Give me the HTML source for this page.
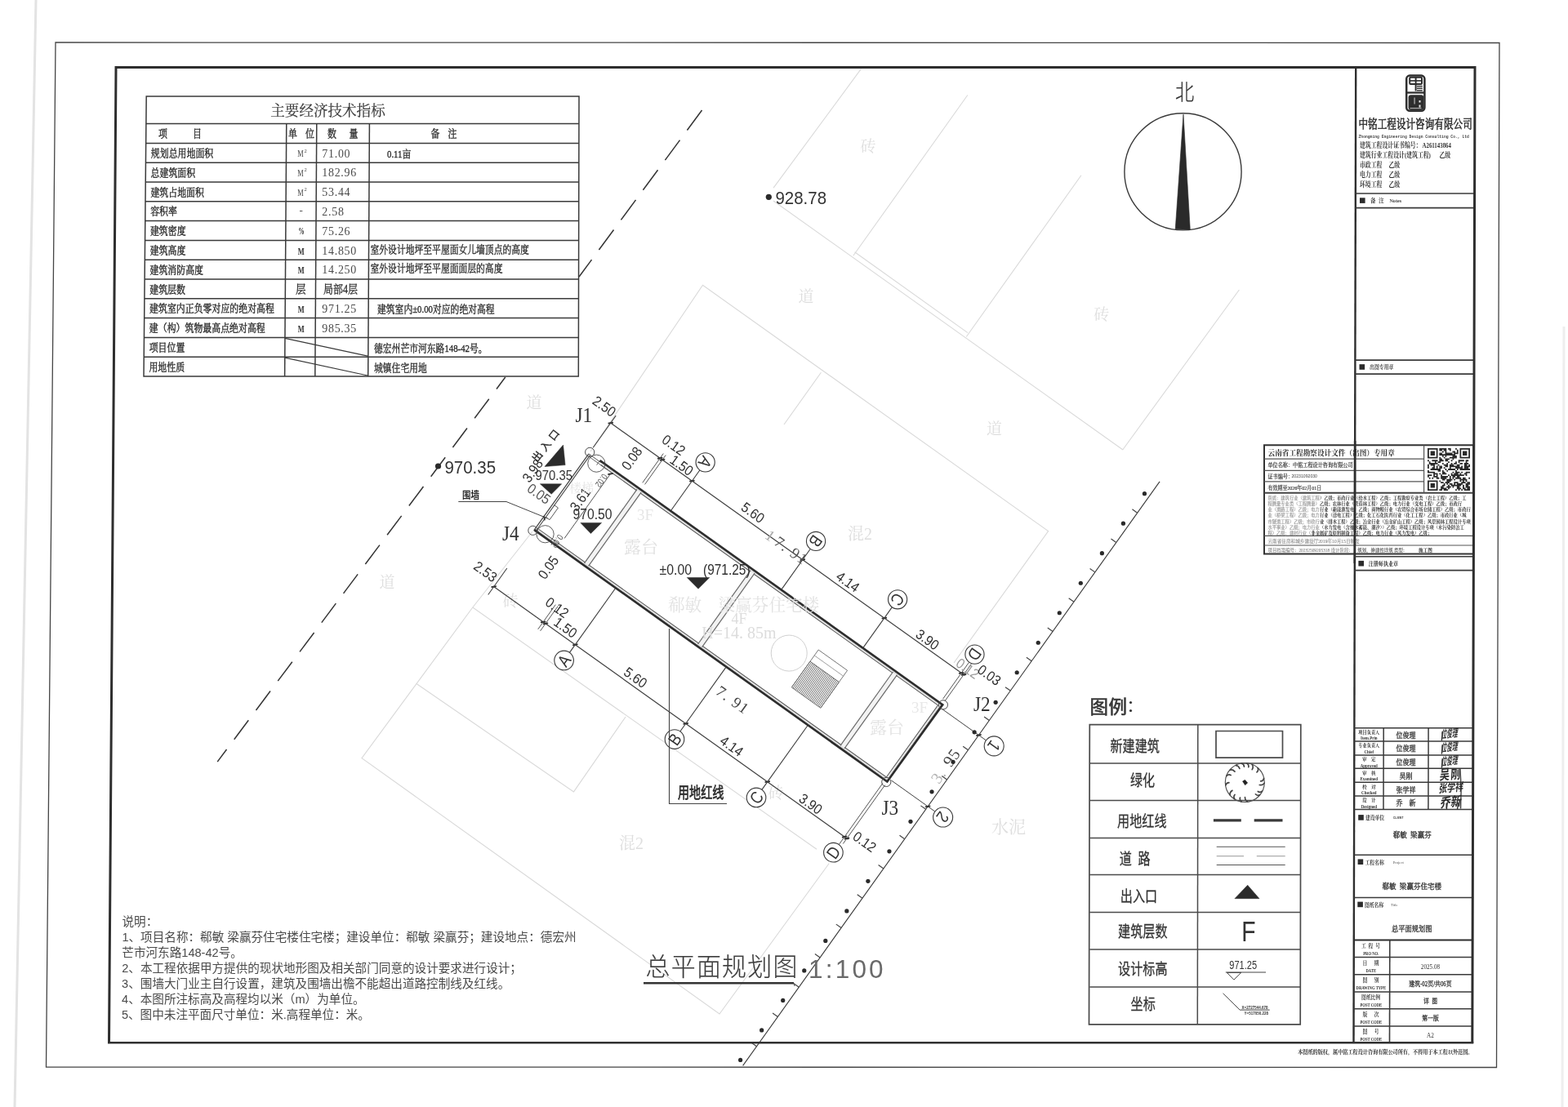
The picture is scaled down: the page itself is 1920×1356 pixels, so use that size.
<!DOCTYPE html><html lang="zh"><head><meta charset="utf-8"><title>总平面规划图 1:100</title><style>html,body{margin:0;padding:0;background:#fff}body{width:1920px;height:1356px;overflow:hidden;font-family:"Liberation Sans",sans-serif}svg{position:absolute;left:0;top:0;display:block;will-change:transform}.fr{font-family:"Liberation Serif","Noto Serif CJK SC",serif}.fs{font-family:"Liberation Sans","Noto Sans CJK SC",sans-serif}</style></head><body><svg font-family="Liberation Sans, sans-serif" width="1920" height="1356" viewBox="0 0 1920 1356"><path d="M44 0L18 1356" stroke="#dcdcdc" stroke-width="3" opacity=".8"/><path d="M1915 400L1913 1356" stroke="#eee" stroke-width="3"/><path d="M1054.4 84.4L947.1 230.2" stroke="#d9d9d9" stroke-width="1.1" fill="none"/><path d="M947 246L1375 551" stroke="#d9d9d9" stroke-width="1.1" fill="none"/><path d="M1046.6 308.8L1185 407.6" stroke="#d9d9d9" stroke-width="1.1" fill="none"/><path d="M1184.8 116.5L1044.8 313.3" stroke="#d9d9d9" stroke-width="1.1" fill="none"/><path d="M1323.9 214.8L1183.3 412.5" stroke="#d9d9d9" stroke-width="1.1" fill="none"/><path d="M1517.4 355L1374.7 551" stroke="#d9d9d9" stroke-width="1.1" fill="none"/><path d="M723 553L860.5 349.3L1283.6 650.6L1168 812" stroke="#d9d9d9" stroke-width="1.1" fill="none"/><path d="M1005.4 456.2L960 520" stroke="#d9d9d9" stroke-width="1.1" fill="none"/><path d="M652 651L578.8 744" stroke="#d9d9d9" stroke-width="1.1" fill="none"/><path d="M578.8 744L1000 1040.3" stroke="#d9d9d9" stroke-width="1.1" fill="none"/><path d="M578.8 744L443 928.6L881 1242L1015.3 1057.5" stroke="#d9d9d9" stroke-width="1.1" fill="none"/><path d="M510 837.5L702.5 969.9L766.1 878" stroke="#d9d9d9" stroke-width="1.1" fill="none"/><text class="fr" x="1062.9" y="186" font-size="19" fill="#dedede" text-anchor="middle">砖</text><text class="fr" x="987" y="370" font-size="19" fill="#dedede" text-anchor="middle">道</text><text class="fr" x="1348.7" y="392" font-size="19" fill="#dedede" text-anchor="middle">砖</text><text class="fr" x="654" y="500" font-size="19" fill="#dedede" text-anchor="middle">道</text><text class="fr" x="474" y="720" font-size="19" fill="#dedede" text-anchor="middle">道</text><text class="fr" x="625" y="743" font-size="19" fill="#dedede" text-anchor="middle">砖</text><text class="fr" x="950" y="978" font-size="19" fill="#dedede" text-anchor="middle">砖</text><text class="fr" x="1217.5" y="532" font-size="19" fill="#dedede" text-anchor="middle">道</text><text class="fr" x="1053" y="660.5" font-size="20" fill="#dedede" text-anchor="middle">混2</text><text class="fr" x="773" y="1040" font-size="20" fill="#dedede" text-anchor="middle">混2</text><text class="fr" x="1235" y="1020" font-size="21" fill="#dedede" text-anchor="middle">水泥</text><path d="M859.5 135L841.4 159.55" stroke="#333" stroke-width="1.5"/><path d="M832.5 171.62L814.4 196.17" stroke="#333" stroke-width="1.5"/><path d="M805.5 208.25L787.4 232.79" stroke="#333" stroke-width="1.5"/><path d="M778.5 244.87L760.4 269.42" stroke="#333" stroke-width="1.5"/><path d="M751.5 281.49L733.4 306.04" stroke="#333" stroke-width="1.5"/><path d="M724.5 318.11L709.07 339.04" stroke="#333" stroke-width="1.5"/><path d="M618.76 462.01L607.97 476.44" stroke="#333" stroke-width="1.5"/><path d="M598.75 488.75L581.19 512.21" stroke="#333" stroke-width="1.5"/><path d="M571.98 524.52L554.42 547.98" stroke="#333" stroke-width="1.5"/><path d="M545.21 560.29L527.65 583.75" stroke="#333" stroke-width="1.5"/><path d="M518.44 596.07L500.88 619.52" stroke="#333" stroke-width="1.5"/><path d="M491.67 631.84L474.11 655.3" stroke="#333" stroke-width="1.5"/><path d="M464.9 667.61L447.34 691.07" stroke="#333" stroke-width="1.5"/><path d="M438.13 703.38L420.57 726.84" stroke="#333" stroke-width="1.5"/><path d="M411.36 739.15L393.8 762.61" stroke="#333" stroke-width="1.5"/><path d="M384.59 774.93L367.03 798.38" stroke="#333" stroke-width="1.5"/><path d="M357.81 810.7L340.26 834.16" stroke="#333" stroke-width="1.5"/><path d="M331.04 846.47L313.49 869.93" stroke="#333" stroke-width="1.5"/><path d="M304.27 882.24L286.72 905.7" stroke="#333" stroke-width="1.5"/><path d="M277.5 918.01L266.21 933.1" stroke="#333" stroke-width="1.5"/><path d="M179.2 118L709 118L708.3 461L176.01 461Z" stroke="none" stroke-width="0" fill="#fff"/><path d="M179.2 118L709 118L708.3 461L176.01 461Z" stroke="#3a3a3a" stroke-width="1.5" fill="none"/><path d="M178.89 151.6L708.83 151.6" stroke="#3a3a3a" stroke-width="1.5"/><path d="M178.67 175.4L708.79 175.4" stroke="#3a3a3a" stroke-width="1.5"/><path d="M178.44 199.2L708.74 199.2" stroke="#3a3a3a" stroke-width="1.5"/><path d="M178.22 223L708.69 223" stroke="#3a3a3a" stroke-width="1.5"/><path d="M178 246.8L708.64 246.8" stroke="#3a3a3a" stroke-width="1.5"/><path d="M177.78 270.6L708.6 270.6" stroke="#3a3a3a" stroke-width="1.5"/><path d="M177.56 294.4L708.55 294.4" stroke="#3a3a3a" stroke-width="1.5"/><path d="M177.34 318.2L708.5 318.2" stroke="#3a3a3a" stroke-width="1.5"/><path d="M177.12 342L708.45 342" stroke="#3a3a3a" stroke-width="1.5"/><path d="M176.9 365.8L708.41 365.8" stroke="#3a3a3a" stroke-width="1.5"/><path d="M176.67 389.6L708.36 389.6" stroke="#3a3a3a" stroke-width="1.5"/><path d="M176.45 413.4L708.31 413.4" stroke="#3a3a3a" stroke-width="1.5"/><path d="M176.23 437.2L708.26 437.2" stroke="#3a3a3a" stroke-width="1.5"/><path d="M350.77 151.6L348.62 461" stroke="#3a3a3a" stroke-width="1.5"/><path d="M387.78 151.6L385.8 461" stroke="#3a3a3a" stroke-width="1.5"/><path d="M452.41 151.6L450.7 461" stroke="#3a3a3a" stroke-width="1.5"/><path d="M348.95 414.4L450.23 436.2" stroke="#3a3a3a" stroke-width="1.2"/><path d="M348.79 438.2L450.1 460" stroke="#3a3a3a" stroke-width="1.2"/><text class="fr" transform="translate(401.5 141.5) scale(0.96 1)" font-size="18.3" fill="#3c3c3c" stroke="#3c3c3c" stroke-width="0.22" text-anchor="middle">主要经济技术指标</text><text class="fr" transform="translate(194 168.3) scale(0.84 1)" font-size="13" fill="#2b2b2b" stroke="#2b2b2b" stroke-width="0.39">项</text><text class="fr" transform="translate(236 168.3) scale(0.84 1)" font-size="13" fill="#2b2b2b" stroke="#2b2b2b" stroke-width="0.39">目</text><text class="fr" transform="translate(353 168.3) scale(0.84 1)" font-size="13" fill="#2b2b2b" stroke="#2b2b2b" stroke-width="0.39">单</text><text class="fr" transform="translate(374 168.3) scale(0.84 1)" font-size="13" fill="#2b2b2b" stroke="#2b2b2b" stroke-width="0.39">位</text><text class="fr" transform="translate(401 168.3) scale(0.84 1)" font-size="13" fill="#2b2b2b" stroke="#2b2b2b" stroke-width="0.39">数</text><text class="fr" transform="translate(427.5 168.3) scale(0.84 1)" font-size="13" fill="#2b2b2b" stroke="#2b2b2b" stroke-width="0.39">量</text><text class="fr" transform="translate(527.5 168.3) scale(0.84 1)" font-size="13" fill="#2b2b2b" stroke="#2b2b2b" stroke-width="0.39">备</text><text class="fr" transform="translate(548.5 168.3) scale(0.84 1)" font-size="13" fill="#2b2b2b" stroke="#2b2b2b" stroke-width="0.39">注</text><text class="fr" transform="translate(184.82 192) scale(0.84 1)" font-size="13" fill="#2b2b2b" stroke="#2b2b2b" stroke-width="0.39">规划总用地面积</text><text transform="translate(364.3 192) scale(0.62 1)" font-size="13.5" fill="#4a4a4a" font-family="Liberation Serif">M</text><text transform="translate(372.6 186.5)" font-size="6.5" fill="#4a4a4a" font-family="Liberation Serif">2</text><text transform="translate(394.3 192.5) scale(0.9 1)" font-size="15.5" fill="#4a4a4a" font-family="Liberation Serif" letter-spacing="0.8">71.00</text><text class="fr" transform="translate(474 193) scale(0.832 1)" font-size="13" fill="#2b2b2b" stroke="#2b2b2b" stroke-width="0.36">0.11亩</text><text class="fr" transform="translate(184.6 215.8) scale(0.84 1)" font-size="13" fill="#2b2b2b" stroke="#2b2b2b" stroke-width="0.39">总建筑面积</text><text transform="translate(364.3 215.8) scale(0.62 1)" font-size="13.5" fill="#4a4a4a" font-family="Liberation Serif">M</text><text transform="translate(372.6 210.3)" font-size="6.5" fill="#4a4a4a" font-family="Liberation Serif">2</text><text transform="translate(394.3 216.3) scale(0.9 1)" font-size="15.5" fill="#4a4a4a" font-family="Liberation Serif" letter-spacing="0.8">182.96</text><text class="fr" transform="translate(184.38 239.6) scale(0.84 1)" font-size="13" fill="#2b2b2b" stroke="#2b2b2b" stroke-width="0.39">建筑占地面积</text><text transform="translate(364.3 239.6) scale(0.62 1)" font-size="13.5" fill="#4a4a4a" font-family="Liberation Serif">M</text><text transform="translate(372.6 234.1)" font-size="6.5" fill="#4a4a4a" font-family="Liberation Serif">2</text><text transform="translate(394.3 240.1) scale(0.9 1)" font-size="15.5" fill="#4a4a4a" font-family="Liberation Serif" letter-spacing="0.8">53.44</text><text class="fr" transform="translate(184.16 263.4) scale(0.84 1)" font-size="13" fill="#2b2b2b" stroke="#2b2b2b" stroke-width="0.39">容积率</text><text transform="translate(366.5 262.4)" font-size="13" fill="#4a4a4a" font-family="Liberation Serif">-</text><text transform="translate(394.3 263.9) scale(0.9 1)" font-size="15.5" fill="#4a4a4a" font-family="Liberation Serif" letter-spacing="0.8">2.58</text><text class="fr" transform="translate(183.94 287.2) scale(0.84 1)" font-size="13" fill="#2b2b2b" stroke="#2b2b2b" stroke-width="0.39">建筑密度</text><text transform="translate(365.5 287.2) scale(0.6 1)" font-size="12" fill="#2b2b2b" font-family="Liberation Serif" font-weight="bold">%</text><text transform="translate(394.3 287.7) scale(0.9 1)" font-size="15.5" fill="#4a4a4a" font-family="Liberation Serif" letter-spacing="0.8">75.26</text><text class="fr" transform="translate(183.72 311) scale(0.84 1)" font-size="13" fill="#2b2b2b" stroke="#2b2b2b" stroke-width="0.39">建筑高度</text><text transform="translate(364.8 311.5) scale(0.62 1)" font-size="13.5" fill="#2b2b2b" font-family="Liberation Serif" font-weight="bold">M</text><text transform="translate(394.3 311.5) scale(0.9 1)" font-size="15.5" fill="#4a4a4a" font-family="Liberation Serif" letter-spacing="0.8">14.850</text><text class="fr" transform="translate(453.5 309.5) scale(0.832 1)" font-size="13" fill="#2b2b2b" stroke="#2b2b2b" stroke-width="0.36">室外设计地坪至平屋面女儿墙顶点的高度</text><text class="fr" transform="translate(183.5 334.8) scale(0.84 1)" font-size="13" fill="#2b2b2b" stroke="#2b2b2b" stroke-width="0.39">建筑消防高度</text><text transform="translate(364.8 335.3) scale(0.62 1)" font-size="13.5" fill="#2b2b2b" font-family="Liberation Serif" font-weight="bold">M</text><text transform="translate(394.3 335.3) scale(0.9 1)" font-size="15.5" fill="#4a4a4a" font-family="Liberation Serif" letter-spacing="0.8">14.250</text><text class="fr" transform="translate(453.5 333.3) scale(0.832 1)" font-size="13" fill="#2b2b2b" stroke="#2b2b2b" stroke-width="0.36">室外设计地坪至平屋面面层的高度</text><text class="fr" transform="translate(183.28 358.6) scale(0.84 1)" font-size="13" fill="#2b2b2b" stroke="#2b2b2b" stroke-width="0.39">建筑层数</text><text class="fr" transform="translate(362 359.1) scale(0.9 1)" font-size="14" fill="#2b2b2b" stroke="#2b2b2b" stroke-width="0.28">层</text><text class="fr" transform="translate(396 359.1) scale(0.86 1)" font-size="14" fill="#2b2b2b" stroke="#2b2b2b" stroke-width="0.28">局部4层</text><text class="fr" transform="translate(183.06 382.4) scale(0.84 1)" font-size="13" fill="#2b2b2b" stroke="#2b2b2b" stroke-width="0.39">建筑室内正负零对应的绝对高程</text><text transform="translate(364.8 382.9) scale(0.62 1)" font-size="13.5" fill="#2b2b2b" font-family="Liberation Serif" font-weight="bold">M</text><text transform="translate(394.3 382.9) scale(0.9 1)" font-size="15.5" fill="#4a4a4a" font-family="Liberation Serif" letter-spacing="0.8">971.25</text><text class="fr" transform="translate(462 383.4) scale(0.832 1)" font-size="13" fill="#2b2b2b" stroke="#2b2b2b" stroke-width="0.36">建筑室内±0.00对应的绝对高程</text><text class="fr" transform="translate(182.85 406.2) scale(0.84 1)" font-size="13" fill="#2b2b2b" stroke="#2b2b2b" stroke-width="0.39">建（构）筑物最高点绝对高程</text><text transform="translate(364.8 406.7) scale(0.62 1)" font-size="13.5" fill="#2b2b2b" font-family="Liberation Serif" font-weight="bold">M</text><text transform="translate(394.3 406.7) scale(0.9 1)" font-size="15.5" fill="#4a4a4a" font-family="Liberation Serif" letter-spacing="0.8">985.35</text><text class="fr" transform="translate(182.63 430) scale(0.84 1)" font-size="13" fill="#2b2b2b" stroke="#2b2b2b" stroke-width="0.39">项目位置</text><text class="fr" transform="translate(458 431) scale(0.832 1)" font-size="13" fill="#2b2b2b" stroke="#2b2b2b" stroke-width="0.36">德宏州芒市河东路148-42号。</text><text class="fr" transform="translate(182.41 453.8) scale(0.84 1)" font-size="13" fill="#2b2b2b" stroke="#2b2b2b" stroke-width="0.39">用地性质</text><text class="fr" transform="translate(458 454.8) scale(0.832 1)" font-size="13" fill="#2b2b2b" stroke="#2b2b2b" stroke-width="0.36">城镇住宅用地</text><path d="M734.53 564.17L1154.04 863.4L1086.31 957.33L654.37 648.99" stroke="#2d2d2d" stroke-width="2.9" fill="none"/><path d="M735.69 569.42L1148.53 863.9L1085.34 951.97L659.72 648.38" stroke="#5e5e5e" stroke-width="1.15" fill="none"/><path d="M736.74 567.96L1151.04 863.48L1085.84 954.54L658.68 649.85" stroke="#d5d5d5" stroke-width="1.2" fill="none"/><path d="M782.24 601.64L718.36 691.19" stroke="#f3f3f3" stroke-width="5.4"/><path d="M780.01 599.43L715.55 689.8" stroke="#686868" stroke-width="1.2"/><path d="M785.05 603.03L720.59 693.4" stroke="#686868" stroke-width="1.2"/><path d="M921.29 700.82L857.41 790.38" stroke="#f3f3f3" stroke-width="5.4"/><path d="M919.06 698.62L854.6 788.98" stroke="#686868" stroke-width="1.2"/><path d="M924.1 702.22L859.65 792.58" stroke="#686868" stroke-width="1.2"/><path d="M1095.67 825.21L1031.8 914.76" stroke="#f3f3f3" stroke-width="5.4"/><path d="M1093.44 823L1028.98 913.37" stroke="#686868" stroke-width="1.2"/><path d="M1098.49 826.6L1034.03 916.97" stroke="#686868" stroke-width="1.2"/><path d="M720.69 556.02L653.68 649.97" stroke="#444" stroke-width="1.25"/><path d="M722.64 557.41L656.79 649.73" stroke="#4a4a4a" stroke-width="1.15"/><path d="M720.81 555.85L735.46 566.31" stroke="#444" stroke-width="0.9"/><path d="M720.92 559.13L743.72 575.39" stroke="#555" stroke-width="0.9"/><path d="M734.65 564.01L730.58 569.7" stroke="#555" stroke-width="0.9"/><path d="M678.78 618.74L683.42 622.05L672.97 636.7L668.32 633.39" stroke="#444" stroke-width="0.9" fill="none"/><path d="M666.05 631.76L666.98 637.34" stroke="#333" stroke-width="1.6" fill="none"/><circle cx="722.2" cy="553.9" r="5.6" stroke="#4a4a4a" stroke-width="1" fill="none"/><circle cx="652.4" cy="649.8" r="5.6" stroke="#4a4a4a" stroke-width="1" fill="none"/><circle cx="1154.9" cy="863.3" r="5.6" stroke="#4a4a4a" stroke-width="1" fill="none"/><circle cx="1085.3" cy="957.9" r="5.6" stroke="#4a4a4a" stroke-width="1" fill="none"/><circle cx="730.31" cy="567.67" r="10.6" stroke="#4a4a4a" stroke-width="0.9" fill="none"/><circle cx="667.58" cy="654.23" r="10.6" stroke="#4a4a4a" stroke-width="0.9" fill="none"/><text transform="translate(733.38 586.44) rotate(125.5) scale(0.8 1)" font-size="11" fill="#555" text-anchor="middle">0.02</text><text transform="translate(679.14 660.76) rotate(125.5) scale(0.8 1)" font-size="11" fill="#555" text-anchor="middle">0.02</text><path d="M746.94 517.5L1181.67 827.59" stroke="#404040" stroke-width="1.2"/><path d="M744.59 518.61L750.91 517.55" stroke="#2a2a2a" stroke-width="1.8"/><path d="M805.08 561.75L811.4 560.7" stroke="#2a2a2a" stroke-width="1.8"/><path d="M807.93 563.79L814.25 562.73" stroke="#2a2a2a" stroke-width="1.8"/><path d="M844.24 589.69L850.55 588.63" stroke="#2a2a2a" stroke-width="1.8"/><path d="M979.63 686.26L985.94 685.2" stroke="#2a2a2a" stroke-width="1.8"/><path d="M1079.68 757.62L1086 756.57" stroke="#2a2a2a" stroke-width="1.8"/><path d="M1174.04 824.93L1180.35 823.87" stroke="#2a2a2a" stroke-width="1.8"/><path d="M1176.89 826.96L1183.2 825.9" stroke="#2a2a2a" stroke-width="1.8"/><path d="M754.14 509.12L726.26 548.2" stroke="#404040" stroke-width="1.1"/><path d="M812.3 555.53L786.75 591.35" stroke="#404040" stroke-width="0.9"/><path d="M815.15 557.56L789.6 593.38" stroke="#404040" stroke-width="0.9"/><path d="M856.98 575.72L821.85 624.98" stroke="#404040" stroke-width="1.15"/><path d="M992.37 672.29L957.24 721.55" stroke="#404040" stroke-width="1.15"/><path d="M1092.42 743.66L1057.29 792.92" stroke="#404040" stroke-width="1.15"/><path d="M1186.49 811.37L1154.55 856.15" stroke="#404040" stroke-width="0.9"/><path d="M1189.34 813.41L1157.4 858.18" stroke="#404040" stroke-width="0.9"/><text transform="translate(736.39 502.49) rotate(35.5) scale(0.9 1)" font-size="17.2" fill="#2f2f2f" text-anchor="middle">2.50</text><text transform="translate(821.47 549.91) rotate(35.5) scale(0.9 1)" font-size="17.2" fill="#2f2f2f" text-anchor="middle">0.12</text><text transform="translate(831.37 574.78) rotate(35.5) scale(0.9 1)" font-size="17.2" fill="#2f2f2f" text-anchor="middle">1.50</text><text transform="translate(918.56 632.67) rotate(35.5) scale(0.9 1)" font-size="17.2" fill="#2f2f2f" text-anchor="middle">5.60</text><text transform="translate(1034.84 717.46) rotate(35.5) scale(0.9 1)" font-size="17.2" fill="#2f2f2f" text-anchor="middle">4.14</text><text transform="translate(1132.36 788.25) rotate(35.5) scale(0.9 1)" font-size="17.2" fill="#2f2f2f" text-anchor="middle">3.90</text><text transform="translate(1181.4 823.84) rotate(35.5) scale(0.9 1)" font-size="17.2" fill="#9a9a9a" text-anchor="middle">0.12</text><text transform="translate(1208.12 831.85) rotate(35.5) scale(0.9 1)" font-size="17.2" fill="#2f2f2f" text-anchor="middle">0.03</text><circle cx="863.66" cy="566.36" r="11.6" stroke="#3a3a3a" stroke-width="1.1" fill="#fff"/><text transform="translate(857.5 561.97) rotate(125.5) scale(0.85 1)" font-size="21" fill="#333" text-anchor="middle">A</text><circle cx="999.05" cy="662.93" r="11.6" stroke="#3a3a3a" stroke-width="1.1" fill="#fff"/><text transform="translate(992.89 658.54) rotate(125.5) scale(0.85 1)" font-size="21" fill="#333" text-anchor="middle">B</text><circle cx="1099.1" cy="734.3" r="11.6" stroke="#3a3a3a" stroke-width="1.1" fill="#fff"/><text transform="translate(1092.95 729.91) rotate(125.5) scale(0.85 1)" font-size="21" fill="#333" text-anchor="middle">C</text><circle cx="1193.46" cy="801.6" r="11.6" stroke="#3a3a3a" stroke-width="1.1" fill="#fff"/><text transform="translate(1187.3 797.21) rotate(125.5) scale(0.85 1)" font-size="21" fill="#333" text-anchor="middle">D</text><text transform="translate(940.08 661.74) rotate(35.5)" font-size="19" fill="#aaa" font-family="Liberation Serif" text-anchor="middle" letter-spacing="1.5">1</text><text transform="translate(965.32 679.74) rotate(35.5)" font-size="19" fill="#555" font-family="Liberation Serif" text-anchor="middle" letter-spacing="1.5">7. 91</text><path d="M603.85 718.1L1038.59 1028.19" stroke="#404040" stroke-width="1.2"/><path d="M601.51 719.21L607.82 718.15" stroke="#2a2a2a" stroke-width="1.8"/><path d="M662 762.35L668.31 761.3" stroke="#2a2a2a" stroke-width="1.8"/><path d="M664.85 764.38L671.16 763.33" stroke="#2a2a2a" stroke-width="1.8"/><path d="M701.16 790.28L707.47 789.23" stroke="#2a2a2a" stroke-width="1.8"/><path d="M836.54 886.85L842.86 885.8" stroke="#2a2a2a" stroke-width="1.8"/><path d="M936.6 958.22L942.91 957.17" stroke="#2a2a2a" stroke-width="1.8"/><path d="M1030.96 1025.53L1037.27 1024.47" stroke="#2a2a2a" stroke-width="1.8"/><path d="M1033.8 1027.56L1040.12 1026.5" stroke="#2a2a2a" stroke-width="1.8"/><path d="M620.81 696.04L597.7 728.45" stroke="#404040" stroke-width="1.1"/><path d="M680.25 740.66L658.77 770.78" stroke="#404040" stroke-width="0.9"/><path d="M683.1 742.69L661.62 772.81" stroke="#404040" stroke-width="0.9"/><path d="M753.32 721.04L697.4 799.44" stroke="#404040" stroke-width="1.15"/><path d="M888.71 817.61L832.79 896.01" stroke="#404040" stroke-width="1.15"/><path d="M988.77 888.98L932.85 967.38" stroke="#404040" stroke-width="1.15"/><path d="M1080.8 959.54L1027.2 1034.69" stroke="#404040" stroke-width="0.9"/><path d="M1083.65 961.58L1032.32 1033.54" stroke="#404040" stroke-width="0.9"/><text transform="translate(591.11 704.96) rotate(35.5) scale(0.9 1)" font-size="17.2" fill="#2f2f2f" text-anchor="middle">2.53</text><text transform="translate(678.79 749.08) rotate(35.5) scale(0.9 1)" font-size="17.2" fill="#2f2f2f" text-anchor="middle">0.12</text><text transform="translate(689.06 773.6) rotate(35.5) scale(0.9 1)" font-size="17.2" fill="#2f2f2f" text-anchor="middle">1.50</text><text transform="translate(774.87 834.81) rotate(35.5) scale(0.9 1)" font-size="17.2" fill="#2f2f2f" text-anchor="middle">5.60</text><text transform="translate(892.51 918.72) rotate(35.5) scale(0.9 1)" font-size="17.2" fill="#2f2f2f" text-anchor="middle">4.14</text><text transform="translate(989.17 989.51) rotate(35.5) scale(0.9 1)" font-size="17.2" fill="#2f2f2f" text-anchor="middle">3.90</text><text transform="translate(1055.16 1035.96) rotate(35.5) scale(0.9 1)" font-size="17.2" fill="#2f2f2f" text-anchor="middle">0.12</text><circle cx="690.61" cy="808.97" r="11.8" stroke="#3a3a3a" stroke-width="1.1" fill="#fff"/><text transform="translate(696.76 813.36) rotate(-54.5) scale(0.85 1)" font-size="21" fill="#333" text-anchor="middle">A</text><circle cx="826" cy="905.54" r="11.8" stroke="#3a3a3a" stroke-width="1.1" fill="#fff"/><text transform="translate(832.15 909.93) rotate(-54.5) scale(0.85 1)" font-size="21" fill="#333" text-anchor="middle">B</text><circle cx="926.05" cy="976.91" r="11.8" stroke="#3a3a3a" stroke-width="1.1" fill="#fff"/><text transform="translate(932.21 981.3) rotate(-54.5) scale(0.85 1)" font-size="21" fill="#333" text-anchor="middle">C</text><circle cx="1020.41" cy="1044.21" r="11.8" stroke="#3a3a3a" stroke-width="1.1" fill="#fff"/><text transform="translate(1026.56 1048.6) rotate(-54.5) scale(0.85 1)" font-size="21" fill="#333" text-anchor="middle">D</text><text transform="translate(893.77 862.7) rotate(35.5)" font-size="19" fill="#444" font-family="Liberation Serif" text-anchor="middle" letter-spacing="1.5">7. 91</text><path d="M1153.69 868.55L1207.42 906.88" stroke="#404040" stroke-width="1"/><path d="M1091.38 955.91L1144.86 994.06" stroke="#404040" stroke-width="1"/><circle cx="1217.19" cy="913.85" r="12" stroke="#3a3a3a" stroke-width="1.1" fill="#fff"/><text transform="translate(1211.03 909.46) rotate(125.5) scale(0.85 1)" font-size="21" fill="#333" text-anchor="middle">1</text><circle cx="1154.63" cy="1001.03" r="12" stroke="#3a3a3a" stroke-width="1.1" fill="#fff"/><text transform="translate(1148.48 996.64) rotate(125.5) scale(0.85 1)" font-size="21" fill="#333" text-anchor="middle">2</text><text transform="translate(1154.58 954.44) rotate(-54.5)" font-size="20" fill="#b5b5b5" font-family="Liberation Serif" text-anchor="middle" letter-spacing="1">3.</text><text transform="translate(1170.84 931.64) rotate(-54.5)" font-size="20" fill="#444" font-family="Liberation Serif" text-anchor="middle" letter-spacing="1">95</text><path d="M1420.06 589.83L909.62 1305.43" stroke="#3a3a3a" stroke-width="1.1"/><circle cx="1401.47" cy="604.7" r="2.6" stroke="none" stroke-width="0" fill="#2a2a2a"/><path d="M1392.65 628.25L1386.38 623.78" stroke="#444" stroke-width="1.2"/><circle cx="1375.42" cy="641.21" r="2.6" stroke="none" stroke-width="0" fill="#2a2a2a"/><path d="M1366.75 664.56L1360.48 660.09" stroke="#444" stroke-width="1.2"/><circle cx="1349.38" cy="677.72" r="2.6" stroke="none" stroke-width="0" fill="#2a2a2a"/><path d="M1340.85 700.87L1334.58 696.4" stroke="#444" stroke-width="1.2"/><circle cx="1323.33" cy="714.23" r="2.6" stroke="none" stroke-width="0" fill="#2a2a2a"/><path d="M1314.95 737.18L1308.68 732.71" stroke="#444" stroke-width="1.2"/><circle cx="1297.29" cy="750.75" r="2.6" stroke="none" stroke-width="0" fill="#2a2a2a"/><path d="M1289.05 773.49L1282.78 769.02" stroke="#444" stroke-width="1.2"/><circle cx="1271.25" cy="787.26" r="2.6" stroke="none" stroke-width="0" fill="#2a2a2a"/><path d="M1263.15 809.8L1256.88 805.33" stroke="#444" stroke-width="1.2"/><circle cx="1245.2" cy="823.77" r="2.6" stroke="none" stroke-width="0" fill="#2a2a2a"/><path d="M1237.25 846.11L1230.98 841.64" stroke="#444" stroke-width="1.2"/><circle cx="1219.16" cy="860.29" r="2.6" stroke="none" stroke-width="0" fill="#2a2a2a"/><path d="M1211.35 882.42L1205.09 877.95" stroke="#444" stroke-width="1.2"/><circle cx="1193.11" cy="896.8" r="2.6" stroke="none" stroke-width="0" fill="#2a2a2a"/><path d="M1185.45 918.73L1179.19 914.26" stroke="#444" stroke-width="1.2"/><circle cx="1167.07" cy="933.31" r="2.6" stroke="none" stroke-width="0" fill="#2a2a2a"/><path d="M1159.56 955.04L1153.29 950.57" stroke="#444" stroke-width="1.2"/><circle cx="1141.02" cy="969.83" r="2.6" stroke="none" stroke-width="0" fill="#2a2a2a"/><path d="M1133.66 991.35L1127.39 986.88" stroke="#444" stroke-width="1.2"/><circle cx="1114.98" cy="1006.34" r="2.6" stroke="none" stroke-width="0" fill="#2a2a2a"/><path d="M1107.76 1027.66L1101.49 1023.19" stroke="#444" stroke-width="1.2"/><circle cx="1088.93" cy="1042.85" r="2.6" stroke="none" stroke-width="0" fill="#2a2a2a"/><path d="M1081.86 1063.97L1075.59 1059.5" stroke="#444" stroke-width="1.2"/><circle cx="1062.89" cy="1079.37" r="2.6" stroke="none" stroke-width="0" fill="#2a2a2a"/><path d="M1055.96 1100.28L1049.69 1095.81" stroke="#444" stroke-width="1.2"/><circle cx="1036.85" cy="1115.88" r="2.6" stroke="none" stroke-width="0" fill="#2a2a2a"/><path d="M1030.06 1136.59L1023.79 1132.12" stroke="#444" stroke-width="1.2"/><circle cx="1010.8" cy="1152.39" r="2.6" stroke="none" stroke-width="0" fill="#2a2a2a"/><path d="M1004.16 1172.9L997.89 1168.42" stroke="#444" stroke-width="1.2"/><circle cx="984.76" cy="1188.9" r="2.6" stroke="none" stroke-width="0" fill="#2a2a2a"/><path d="M978.26 1209.21L971.99 1204.73" stroke="#444" stroke-width="1.2"/><circle cx="958.71" cy="1225.42" r="2.6" stroke="none" stroke-width="0" fill="#2a2a2a"/><path d="M952.36 1245.52L946.09 1241.04" stroke="#444" stroke-width="1.2"/><circle cx="932.67" cy="1261.93" r="2.6" stroke="none" stroke-width="0" fill="#2a2a2a"/><path d="M926.46 1281.82L920.19 1277.35" stroke="#444" stroke-width="1.2"/><circle cx="906.62" cy="1298.44" r="2.6" stroke="none" stroke-width="0" fill="#2a2a2a"/><path d="M1195.31 901.02L1201.62 899.96" stroke="#2a2a2a" stroke-width="1.8"/><path d="M1133 988.38L1139.31 987.32" stroke="#2a2a2a" stroke-width="1.8"/><text transform="translate(657.09 579.93) rotate(-54.5) scale(0.9 1)" font-size="17.2" fill="#2f2f2f" text-anchor="middle">3.98</text><path d="M747.44 580.5L691.12 659.47" stroke="#404040" stroke-width="0.9"/><text transform="translate(715.35 615.34) rotate(-54.5) scale(0.9 1)" font-size="17.2" fill="#2f2f2f" text-anchor="middle">3.61</text><text transform="translate(778.55 564.98) rotate(-54.5) scale(0.9 1)" font-size="17.2" fill="#2f2f2f" text-anchor="middle">0.08</text><text transform="translate(676.15 698.55) rotate(-54.5) scale(0.9 1)" font-size="17.2" fill="#2f2f2f" text-anchor="middle">0.05</text><text transform="translate(656.55 609.77) rotate(35.5) scale(0.9 1)" font-size="17.2" fill="#555" text-anchor="middle">0.05</text><path d="M744.29 581.03L750.6 579.98" stroke="#2a2a2a" stroke-width="1.8"/><text transform="translate(655.5 588) scale(0.9 1)" font-size="16.5" fill="#333">970.35</text><path d="M661.4 592.8L687.7 592.8L675.2 605.3Z" stroke="#2b2b2b" stroke-width="0.5" fill="#2b2b2b"/><text transform="translate(701.5 636.2) scale(0.9 1)" font-size="17.5" fill="#2f2f2f">970.50</text><path d="M710.9 640.4L736.6 640.4L723.4 653.6Z" stroke="#2b2b2b" stroke-width="0.5" fill="#2b2b2b"/><text transform="translate(807.5 704) scale(0.88 1)" font-size="18" fill="#2f2f2f">±0.00</text><text transform="translate(861 704) scale(0.86 1)" font-size="18" fill="#2f2f2f">(971.25)</text><path d="M841.25 707.5L868.75 707.5L855 721.25Z" stroke="#2b2b2b" stroke-width="0.5" fill="#2b2b2b"/><path d="M689.6 545.1L692.1 569.6L667 571.5Z" stroke="#2b2b2b" stroke-width="0.5" fill="#2b2b2b"/><text class="fs" transform="translate(657.5 566.8) rotate(-52)" font-size="12.5" letter-spacing="4.2" fill="#2b2b2b" stroke="#2b2b2b" stroke-width="0.375">出入口</text><path d="M561.3 614.5L620 614.5L670.5 635" stroke="#444" stroke-width="1" fill="none"/><text class="fs" transform="translate(566 610.5) scale(0.84 1)" font-size="12.5" font-weight="bold" fill="#2b2b2b">围墙</text><circle cx="941.3" cy="241.3" r="3.6" stroke="none" stroke-width="0" fill="#2b2b2b"/><text transform="translate(949.5 250.3) scale(0.93 1)" font-size="22" fill="#333">928.78</text><circle cx="536.5" cy="571" r="3.6" stroke="none" stroke-width="0" fill="#2b2b2b"/><text transform="translate(544.5 579.5) scale(0.93 1)" font-size="22" fill="#333">970.35</text><text transform="translate(704.5 516.5) scale(0.95 1)" font-size="24.5" fill="#333" font-family="Liberation Serif">J1</text><text transform="translate(615 661.5) scale(0.95 1)" font-size="24.5" fill="#333" font-family="Liberation Serif">J4</text><text transform="translate(1192 870.5) scale(0.95 1)" font-size="24.5" fill="#333" font-family="Liberation Serif">J2</text><text transform="translate(1079.5 998) scale(0.95 1)" font-size="24.5" fill="#333" font-family="Liberation Serif">J3</text><path d="M819.5 770L819.5 984.5L890 984.5" stroke="#444" stroke-width="1.1" fill="none"/><text class="fs" transform="translate(830 977.5) scale(0.725 1)" font-size="19.5" fill="#2b2b2b" stroke="#2b2b2b" stroke-width="0.68">用地红线</text><circle cx="966.21" cy="800.06" r="22" stroke="#cfcfcf" stroke-width="1" fill="none"/><path d="M1002.17 795.98L1037.58 821.24L1004.77 867.23L969.36 841.97Z" stroke="#666" stroke-width="0.9" fill="#fff"/><path d="M997.23 802.9L1032.65 828.16" stroke="#888" stroke-width="0.8"/><path d="M992.01 810.22L1027.42 835.48" stroke="#555" stroke-width="0.9"/><path d="M992.01 810.22L969.36 841.97" stroke="#6a6a6a" stroke-width="1"/><path d="M993.61 811.37L970.97 843.12" stroke="#6a6a6a" stroke-width="1"/><path d="M995.22 812.52L972.58 844.27" stroke="#6a6a6a" stroke-width="1"/><path d="M996.83 813.67L974.19 845.42" stroke="#6a6a6a" stroke-width="1"/><path d="M998.44 814.82L975.8 846.57" stroke="#6a6a6a" stroke-width="1"/><path d="M1000.05 815.96L977.41 847.71" stroke="#6a6a6a" stroke-width="1"/><path d="M1001.66 817.11L979.02 848.86" stroke="#6a6a6a" stroke-width="1"/><path d="M1003.27 818.26L980.63 850.01" stroke="#6a6a6a" stroke-width="1"/><path d="M1004.88 819.41L982.24 851.16" stroke="#6a6a6a" stroke-width="1"/><path d="M1006.49 820.56L983.85 852.31" stroke="#6a6a6a" stroke-width="1"/><path d="M1008.1 821.71L985.45 853.46" stroke="#6a6a6a" stroke-width="1"/><path d="M1009.71 822.85L987.06 854.6" stroke="#6a6a6a" stroke-width="1"/><path d="M1011.32 824L988.67 855.75" stroke="#6a6a6a" stroke-width="1"/><path d="M1012.93 825.15L990.28 856.9" stroke="#6a6a6a" stroke-width="1"/><path d="M1014.54 826.3L991.89 858.05" stroke="#6a6a6a" stroke-width="1"/><path d="M1016.15 827.45L993.5 859.2" stroke="#6a6a6a" stroke-width="1"/><path d="M1017.76 828.59L995.11 860.34" stroke="#6a6a6a" stroke-width="1"/><path d="M1019.37 829.74L996.72 861.49" stroke="#6a6a6a" stroke-width="1"/><path d="M1020.98 830.89L998.33 862.64" stroke="#6a6a6a" stroke-width="1"/><path d="M1022.59 832.04L999.94 863.79" stroke="#6a6a6a" stroke-width="1"/><path d="M1024.2 833.19L1001.55 864.94" stroke="#6a6a6a" stroke-width="1"/><path d="M1025.81 834.34L1003.16 866.09" stroke="#6a6a6a" stroke-width="1"/><path d="M1027.42 835.48L1004.77 867.23" stroke="#6a6a6a" stroke-width="1"/><text class="fr" x="785" y="677" font-size="21" fill="#e0e0e0" text-anchor="middle">露台</text><text transform="translate(790 637)" font-size="19" fill="#e6e6e6" font-family="Liberation Serif" text-anchor="middle">3F</text><text class="fr" x="1086" y="898" font-size="21" fill="#e3e3e3" text-anchor="middle">露台</text><text transform="translate(1126 873)" font-size="19" fill="#e8e8e8" font-family="Liberation Serif" text-anchor="middle">3F</text><text class="fr" transform="translate(818 748) scale(0.98 1)" font-size="21" fill="#e2e2e2">郗敏<tspan dx="21">梁赢芬住宅楼</tspan></text><text transform="translate(905 764)" font-size="18" fill="#dcdcdc" font-family="Liberation Serif" text-anchor="middle">4F</text><text transform="translate(905 782)" font-size="20" fill="#dcdcdc" font-family="Liberation Serif" text-anchor="middle">H=14. 85m</text><text class="fr" x="712" y="603" font-size="15" fill="#e6e6e6" text-anchor="middle">楼梯</text><circle cx="1448.5" cy="210.3" r="71.6" stroke="#3a3a3a" stroke-width="1.4" fill="none"/><path d="M1449 140L1457.3 281.3L1439.2 280.8Z" stroke="#2a2a2a" stroke-width="0.6" fill="#2a2a2a"/><text class="fs" transform="translate(1450.5 122.5) scale(0.86 1)" font-size="27" font-weight="300" fill="#333" stroke="#333" stroke-width="0.2" text-anchor="middle">北</text><text class="fs" x="149.5" y="1133.8" font-size="14.6" fill="#4a4a4a">说明：</text><text class="fs" x="149.4" y="1152.9" font-size="14.6" fill="#4a4a4a">1、项目名称：郗敏 梁赢芬住宅楼住宅楼；建设单位：郗敏 梁赢芬；建设地点：德宏州</text><text class="fs" x="149.31" y="1172" font-size="14.6" fill="#4a4a4a">芒市河东路148-42号。</text><text class="fs" x="149.21" y="1191.1" font-size="14.6" fill="#4a4a4a">2、本工程依据甲方提供的现状地形图及相关部门同意的设计要求进行设计；</text><text class="fs" x="149.11" y="1210.2" font-size="14.6" fill="#4a4a4a">3、围墙大门业主自行设置，建筑及围墙出檐不能超出道路控制线及红线。</text><text class="fs" x="149.02" y="1229.3" font-size="14.6" fill="#4a4a4a">4、本图所注标高及高程均以米（m）为单位。</text><text class="fs" x="148.92" y="1248.4" font-size="14.6" fill="#4a4a4a">5、图中未注平面尺寸单位：米.高程单位：米。</text><text class="fs" transform="translate(790.5 1194.5) scale(0.965 1)" font-size="31" font-weight="300" letter-spacing="1.33" fill="#3c3c3c" stroke="#3c3c3c" stroke-width="0.19">总平面规划图</text><path d="M788 1204.3L972 1204.3" stroke="#333" stroke-width="2.6"/><path d="M972 1204.3L973 1208" stroke="#555" stroke-width="1"/><text transform="translate(990 1198)" font-size="31.5" fill="#6a6a6a" letter-spacing="3.2">1:100</text><path d="M1334.3 887.6L1592.8 887.6L1592.2 1254.8L1333.5 1254.8Z" stroke="#4a4a4a" stroke-width="1.7" fill="none"/><path d="M1334.3 935.1L1592.8 935.1" stroke="#4a4a4a" stroke-width="1.5"/><path d="M1334.3 980.5L1592.8 980.5" stroke="#4a4a4a" stroke-width="1.5"/><path d="M1334.3 1026.5L1592.8 1026.5" stroke="#4a4a4a" stroke-width="1.5"/><path d="M1334.3 1071.5L1592.8 1071.5" stroke="#4a4a4a" stroke-width="1.5"/><path d="M1334.3 1117.5L1592.8 1117.5" stroke="#4a4a4a" stroke-width="1.5"/><path d="M1334.3 1162.9L1592.8 1162.9" stroke="#4a4a4a" stroke-width="1.5"/><path d="M1334.3 1208.9L1592.8 1208.9" stroke="#4a4a4a" stroke-width="1.5"/><path d="M1466.8 887.6L1466.3 1254.8" stroke="#4a4a4a" stroke-width="1.5"/><text class="fs" x="1334.5" y="873.5" font-size="22.5" letter-spacing="0.45" fill="#383838" stroke="#383838" stroke-width="0.63">图例</text><circle cx="1384.5" cy="860.5" r="1.6" stroke="none" stroke-width="0" fill="#333"/><circle cx="1384.5" cy="870.5" r="1.6" stroke="none" stroke-width="0" fill="#333"/><text class="fs" transform="translate(1389.7 920.5) scale(0.795 1)" font-size="19" fill="#333" stroke="#333" stroke-width="0.27" text-anchor="middle">新建建筑</text><text class="fs" transform="translate(1399 962.5) scale(0.795 1)" font-size="19" fill="#333" stroke="#333" stroke-width="0.27" text-anchor="middle">绿化</text><text class="fs" transform="translate(1398.3 1013.3) scale(0.795 1)" font-size="19" fill="#333" stroke="#333" stroke-width="0.27" text-anchor="middle">用地红线</text><text class="fs" transform="translate(1389.7 1058.7) scale(0.795 1)" font-size="19" fill="#333" stroke="#333" stroke-width="0.27" text-anchor="middle">道<tspan dx="9.5">路</tspan></text><text class="fs" transform="translate(1394.5 1105.3) scale(0.795 1)" font-size="19" fill="#333" stroke="#333" stroke-width="0.27" text-anchor="middle">出入口</text><text class="fs" transform="translate(1399.3 1147.5) scale(0.795 1)" font-size="19" fill="#333" stroke="#333" stroke-width="0.27" text-anchor="middle">建筑层数</text><text class="fs" transform="translate(1399.3 1193.5) scale(0.795 1)" font-size="19" fill="#333" stroke="#333" stroke-width="0.27" text-anchor="middle">设计标高</text><text class="fs" transform="translate(1399.7 1237) scale(0.795 1)" font-size="19" fill="#333" stroke="#333" stroke-width="0.27" text-anchor="middle">坐标</text><path d="M1489 895.5L1570.5 895.5L1570.5 928.2L1489 928.2Z" stroke="#4a4a4a" stroke-width="1.7" fill="none"/><circle cx="1524.3" cy="958.5" r="24" stroke="#505050" stroke-width="1.15" fill="none"/><path d="M1513.17 937.57Q1516.49 937.66 1517.91 941.46M1520.18 935.16Q1523.29 935.9 1523.44 939.12M1526.78 934.93Q1529.56 936.5 1528.81 939.63M1533.18 936.53Q1535.24 939.12 1533.25 942.65M1540.16 940.89Q1541.49 943.79 1539.04 945.89M1547.48 953.57Q1546.85 956.7 1543.64 956.96M1547.99 959.33Q1546.26 962.15 1542.25 961.49M1545.42 969.26Q1542.95 971.3 1540.3 969.47M1542.46 973.73Q1539.6 975.16 1537.42 972.79M1527.6 981.97Q1524.51 980.76 1524.48 976.7M1520.18 981.84Q1517.52 980.08 1518.48 977.01M1511.74 978.6Q1509.93 975.97 1511.97 973.48M1506.14 973.73Q1505.54 970.48 1508.96 968.29M1500.83 961.8Q1501.68 958.72 1504.9 958.69M1502.03 950.39Q1504.23 948.07 1507.08 949.56M1506.14 943.27Q1509.25 942.1 1511.99 945.09" fill="none" stroke="#444" stroke-width="1.7" stroke-linecap="round"/><path d="M1521.5 957L1524.5 955.3L1527.7 959L1524.6 961.7Z" stroke="#222" stroke-width="0.5" fill="#222"/><path d="M1485.9 1004.9L1519.8 1004.9" stroke="#3a3a3a" stroke-width="3.2"/><path d="M1535.7 1004.9L1570.5 1004.9" stroke="#3a3a3a" stroke-width="3.2"/><path d="M1489.7 1037.3L1573.7 1037.3" stroke="#555" stroke-width="1.1"/><path d="M1489.7 1059.5L1573.7 1059.5" stroke="#555" stroke-width="1.1"/><path d="M1489.7 1048.7L1523 1048.7" stroke="#999" stroke-width="1"/><path d="M1538.8 1048.7L1573.7 1048.7" stroke="#999" stroke-width="1"/><path d="M1527.7 1084.2L1511.9 1100.7L1542 1100.7Z" stroke="#2b2b2b" stroke-width="0.5" fill="#2b2b2b"/><text transform="translate(1520.3 1153.3) scale(0.82 1)" font-size="34.5" fill="#333">F</text><text transform="translate(1505.3 1187.3) scale(0.78 1)" font-size="14.2" fill="#333">971.25</text><path d="M1500.8 1191L1550 1191" stroke="#444" stroke-width="1.1"/><path d="M1502.4 1191.4L1519.8 1191.4L1510.9 1200.2Z" stroke="#444" stroke-width="1" fill="none"/><path d="M1497.6 1216.8L1518.2 1237.1L1554.7 1237.1" stroke="#444" stroke-width="1" fill="none"/><text transform="translate(1520.5 1236.3) scale(0.98 1)" font-size="4.6" fill="#333" font-weight="bold">X=2727544.678</text><text transform="translate(1523.5 1242.6) scale(0.98 1)" font-size="4.6" fill="#333" font-weight="bold">Y=517050.228</text><path d="M1660.2 82L1657.5 1277" stroke="#2e2e2e" stroke-width="2.4"/><path d="M1659.85 237L1805.59 237" stroke="#3a3a3a" stroke-width="1.6"/><path d="M1659.81 254.6L1805.54 254.6" stroke="#3a3a3a" stroke-width="1.6"/><path d="M1659.39 441.1L1805.04 441.1" stroke="#3a3a3a" stroke-width="1.6"/><path d="M1659.35 458.1L1804.99 458.1" stroke="#3a3a3a" stroke-width="1.6"/><rect x="1722.2" y="92.6" width="22.2" height="43.2" rx="4" fill="none" stroke="#2e2e2e" stroke-width="2.5"/><path d="M1722.2 113.5L1744.4 113.5" stroke="#2e2e2e" stroke-width="2.3"/><rect x="1726.2" y="94.8" width="14.8" height="8.3" rx="1" fill="none" stroke="#2e2e2e" stroke-width="2"/><path d="M1733.6 94.8L1733.6 111.5" stroke="#2e2e2e" stroke-width="2"/><path d="M1726.2 98.9L1741 98.9" stroke="#2e2e2e" stroke-width="1.6"/><path d="M1735 105.6L1741.8 105.6" stroke="#333" stroke-width="1.5"/><path d="M1735 108.2L1741.8 108.2" stroke="#333" stroke-width="1.5"/><path d="M1735 110.8L1741.8 110.8" stroke="#333" stroke-width="1.5"/><rect x="1724.6" y="116.3" width="18.6" height="18.4" rx="3" fill="#2e2e2e"/><path d="M1737.5 123h2v2.6h-2zM1737.5 128.4h2v3h-2zM1731.6 119.5h.9v8h-.9zM1726.5 132.2h14v.8h-14z" fill="#e8e8e8"/><text class="fr" transform="translate(1663.5 157.4) scale(0.812 1)" font-size="14.3" fill="#262626" stroke="#262626" stroke-width="0.5">中铭工程设计咨询有限公司</text><text transform="translate(1663.5 168.6) scale(0.89 1)" font-size="5.3" fill="#444" font-family="Liberation Mono" font-weight="bold">Zhongming Engineering Design Consulting Co., Ltd</text><text class="fr" transform="translate(1665 181) scale(0.8 1)" font-size="8.6" font-weight="bold" fill="#333">建筑工程设计证书编号：</text><text transform="translate(1741.5 181) scale(0.8 1)" font-size="8.6" fill="#333" font-family="Liberation Serif" font-weight="bold">A261143864</text><text class="fr" transform="translate(1665 193) scale(0.8 1)" font-size="8.6" font-weight="bold" fill="#333">建筑行业工程设计(建筑工程)</text><text class="fr" transform="translate(1762.5 193) scale(0.8 1)" font-size="8.6" font-weight="bold" fill="#333">乙级</text><text class="fr" transform="translate(1665 205) scale(0.8 1)" font-size="8.6" font-weight="bold" fill="#333">市政工程</text><text class="fr" transform="translate(1700.5 205) scale(0.8 1)" font-size="8.6" font-weight="bold" fill="#333">乙级</text><text class="fr" transform="translate(1665 217) scale(0.8 1)" font-size="8.6" font-weight="bold" fill="#333">电力工程</text><text class="fr" transform="translate(1700.5 217) scale(0.8 1)" font-size="8.6" font-weight="bold" fill="#333">乙级</text><text class="fr" transform="translate(1665 229.2) scale(0.8 1)" font-size="8.6" font-weight="bold" fill="#333">环境工程</text><text class="fr" transform="translate(1700.5 229.2) scale(0.8 1)" font-size="8.6" font-weight="bold" fill="#333">乙级</text><rect x="1665" y="242.3" width="6.6" height="6.6" fill="#2b2b2b"/><text class="fr" transform="translate(1678 248.4) scale(0.95 1)" font-size="7" font-weight="bold" fill="#333">备<tspan dx="3.5">注</tspan></text><text transform="translate(1701.4 248.3) scale(0.95 1)" font-size="6.5" fill="#444" font-family="Liberation Serif" font-weight="bold">Notes</text><rect x="1664.5" y="446.2" width="6.6" height="6.6" fill="#2b2b2b"/><text class="fr" transform="translate(1677 452.2) scale(0.82 1)" font-size="7.2" font-weight="bold" fill="#333">出图专用章</text><path d="M1548 545.3L1804.2 545.3L1804.2 678.6L1548 678.6Z" stroke="#333" stroke-width="2" fill="none"/><path d="M1548 562.1L1743.6 562.1" stroke="#555" stroke-width="1.2"/><path d="M1548 576.4L1743.6 576.4" stroke="#555" stroke-width="1.2"/><path d="M1548 589.9L1743.6 589.9" stroke="#555" stroke-width="1.2"/><path d="M1548 603.7L1804.2 603.7" stroke="#444" stroke-width="2"/><path d="M1548 656.3L1804.2 656.3" stroke="#555" stroke-width="1.2"/><path d="M1548 668L1804.2 668" stroke="#555" stroke-width="1.2"/><path d="M1743.6 545.3L1743.6 603.7" stroke="#555" stroke-width="1.2"/><text class="fr" transform="translate(1552.5 558.2) scale(0.94 1)" font-size="9.2" font-weight="bold" fill="#2b2b2b">云南省工程勘察设计文件（出图）专用章</text><text class="fr" transform="translate(1552.5 571.6) scale(0.93 1)" font-size="6.6" fill="#3a3a3a" stroke="#3a3a3a" stroke-width="0.2">单位名称：中铭工程设计咨询有限公司</text><text class="fr" transform="translate(1552.5 585.6) scale(0.93 1)" font-size="6.6" fill="#3a3a3a" stroke="#3a3a3a" stroke-width="0.2">证书编号：</text><text transform="translate(1581.5 585.4) scale(0.86 1)" font-size="6" fill="#444">20231092030</text><text class="fr" transform="translate(1552.5 599.6) scale(0.92 1)" font-size="6.5" fill="#3a3a3a" stroke="#3a3a3a" stroke-width="0.2">有效期至2026年02月01日</text><text class="fr" transform="translate(1552.5 612) scale(0.9706 1)" font-size="5.45" fill="#9a9a9a" stroke="#9a9a9a" stroke-width="0.16">资质：建筑行业（建筑工程</text><text class="fr" transform="translate(1615.94 612) scale(0.9706 1)" font-size="5.45" font-weight="bold" fill="#2e2e2e">）乙级；市政行业（给水工程）乙级；工程勘察专业类（岩土工程）乙级；工</text><text class="fr" transform="translate(1552.5 619.13) scale(0.9706 1)" font-size="5.45" fill="#9a9a9a" stroke="#9a9a9a" stroke-width="0.16">程测量专业类（工程测量）</text><text class="fr" transform="translate(1615.94 619.13) scale(0.9706 1)" font-size="5.45" font-weight="bold" fill="#2e2e2e">乙级；农林行业（营造林工程）乙级；电力行业（变电工程）乙级；市政行</text><text class="fr" transform="translate(1552.5 626.26) scale(0.9706 1)" font-size="5.45" fill="#9a9a9a" stroke="#9a9a9a" stroke-width="0.16">业（道路工程）乙级；电力</text><text class="fr" transform="translate(1615.94 626.26) scale(0.9706 1)" font-size="5.45" font-weight="bold" fill="#2e2e2e">行业（新能源发电）乙级；商物粮行业（农贸综合市场仓储工程）乙级；市政行</text><text class="fr" transform="translate(1552.5 633.39) scale(0.9706 1)" font-size="5.45" fill="#9a9a9a" stroke="#9a9a9a" stroke-width="0.16">业（桥梁工程）乙级；电力</text><text class="fr" transform="translate(1615.94 633.39) scale(0.9706 1)" font-size="5.45" font-weight="bold" fill="#2e2e2e">行业（送电工程）乙级；化工石化医药行业（化工工程）乙级；市政行业（城</text><text class="fr" transform="translate(1552.5 640.52) scale(0.9706 1)" font-size="5.45" fill="#9a9a9a" stroke="#9a9a9a" stroke-width="0.16">市隧道工程）乙级；市政行</text><text class="fr" transform="translate(1615.94 640.52) scale(0.9706 1)" font-size="5.45" font-weight="bold" fill="#2e2e2e">业（排水工程）乙级；冶金行业（冶金矿山工程）乙级；风景园林工程设计专项</text><text class="fr" transform="translate(1552.5 647.65) scale(0.9706 1)" font-size="5.45" fill="#9a9a9a" stroke="#9a9a9a" stroke-width="0.16">水平事业）乙级；电力行业</text><text class="fr" transform="translate(1615.94 647.65) scale(0.9706 1)" font-size="5.45" font-weight="bold" fill="#2e2e2e">（水力发电（含抽水蓄能、潮汐））乙级；环境工程设计专项（水污染防治工</text><text class="fr" transform="translate(1552.5 654.78) scale(0.9706 1)" font-size="5.45" fill="#9a9a9a" stroke="#9a9a9a" stroke-width="0.16">程）乙级；建材行业（</text><text class="fr" transform="translate(1605.37 654.78) scale(0.9706 1)" font-size="5.45" font-weight="bold" fill="#2e2e2e">非金属矿及原料制备工程）乙级；电力行业（风力发电）乙级；</text><text class="fr" transform="translate(1552.5 665.2) scale(0.97 1)" font-size="5.8" fill="#8a8a8a" stroke="#8a8a8a" stroke-width="0.12">云南省住房和城乡建设厅2019年10月15日制发</text><text class="fr" transform="translate(1552.5 676.4) scale(0.97 1)" font-size="5.6" fill="#8a8a8a" stroke="#8a8a8a" stroke-width="0.11">项目档案编号：20232509205318 设计阶段：</text><text class="fr" transform="translate(1662.36 676.4) scale(0.97 1)" font-size="5.6" fill="#666" stroke="#666" stroke-width="0.17">规划，修建性详规 类型：</text><text class="fr" transform="translate(1737 676.4) scale(0.97 1)" font-size="5.8" font-weight="bold" fill="#222">施工图</text><path d="M1748 549h12.55v1.79h-12.55zM1762.34 549h8.97v1.79h-8.97zM1773.1 549h3.59v1.79h-3.59zM1782.07 549h1.79v1.79h-1.79zM1787.45 549h12.55v1.79h-12.55zM1748 550.79h1.79v1.79h-1.79zM1758.76 550.79h1.79v1.79h-1.79zM1762.34 550.79h3.59v1.79h-3.59zM1767.72 550.79h3.59v1.79h-3.59zM1774.9 550.79h1.79v1.79h-1.79zM1783.86 550.79h1.79v1.79h-1.79zM1787.45 550.79h1.79v1.79h-1.79zM1798.21 550.79h1.79v1.79h-1.79zM1748 552.59h1.79v1.79h-1.79zM1751.59 552.59h5.38v1.79h-5.38zM1758.76 552.59h1.79v1.79h-1.79zM1765.93 552.59h1.79v1.79h-1.79zM1769.52 552.59h1.79v1.79h-1.79zM1778.48 552.59h3.59v1.79h-3.59zM1783.86 552.59h1.79v1.79h-1.79zM1787.45 552.59h1.79v1.79h-1.79zM1791.03 552.59h5.38v1.79h-5.38zM1798.21 552.59h1.79v1.79h-1.79zM1748 554.38h1.79v1.79h-1.79zM1751.59 554.38h5.38v1.79h-5.38zM1758.76 554.38h1.79v1.79h-1.79zM1762.34 554.38h3.59v1.79h-3.59zM1769.52 554.38h8.97v1.79h-8.97zM1780.28 554.38h5.38v1.79h-5.38zM1787.45 554.38h1.79v1.79h-1.79zM1791.03 554.38h5.38v1.79h-5.38zM1798.21 554.38h1.79v1.79h-1.79zM1748 556.17h1.79v1.79h-1.79zM1751.59 556.17h5.38v1.79h-5.38zM1758.76 556.17h1.79v1.79h-1.79zM1762.34 556.17h19.72v1.79h-19.72zM1787.45 556.17h1.79v1.79h-1.79zM1791.03 556.17h5.38v1.79h-5.38zM1798.21 556.17h1.79v1.79h-1.79zM1748 557.97h1.79v1.79h-1.79zM1758.76 557.97h1.79v1.79h-1.79zM1765.93 557.97h1.79v1.79h-1.79zM1769.52 557.97h1.79v1.79h-1.79zM1778.48 557.97h5.38v1.79h-5.38zM1787.45 557.97h1.79v1.79h-1.79zM1798.21 557.97h1.79v1.79h-1.79zM1748 559.76h12.55v1.79h-12.55zM1762.34 559.76h1.79v1.79h-1.79zM1767.72 559.76h1.79v1.79h-1.79zM1774.9 559.76h8.97v1.79h-8.97zM1787.45 559.76h12.55v1.79h-12.55zM1762.34 561.55h3.59v1.79h-3.59zM1769.52 561.55h5.38v1.79h-5.38zM1778.48 561.55h1.79v1.79h-1.79zM1748 563.34h1.79v1.79h-1.79zM1753.38 563.34h7.17v1.79h-7.17zM1762.34 563.34h5.38v1.79h-5.38zM1769.52 563.34h3.59v1.79h-3.59zM1776.69 563.34h1.79v1.79h-1.79zM1785.66 563.34h7.17v1.79h-7.17zM1794.62 563.34h3.59v1.79h-3.59zM1749.79 565.14h1.79v1.79h-1.79zM1756.97 565.14h1.79v1.79h-1.79zM1760.55 565.14h3.59v1.79h-3.59zM1773.1 565.14h1.79v1.79h-1.79zM1782.07 565.14h1.79v1.79h-1.79zM1785.66 565.14h1.79v1.79h-1.79zM1794.62 565.14h1.79v1.79h-1.79zM1749.79 566.93h10.76v1.79h-10.76zM1765.93 566.93h1.79v1.79h-1.79zM1771.31 566.93h1.79v1.79h-1.79zM1776.69 566.93h1.79v1.79h-1.79zM1780.28 566.93h3.59v1.79h-3.59zM1787.45 566.93h3.59v1.79h-3.59zM1792.83 566.93h5.38v1.79h-5.38zM1748 568.72h1.79v1.79h-1.79zM1751.59 568.72h5.38v1.79h-5.38zM1760.55 568.72h1.79v1.79h-1.79zM1767.72 568.72h5.38v1.79h-5.38zM1774.9 568.72h5.38v1.79h-5.38zM1783.86 568.72h3.59v1.79h-3.59zM1792.83 568.72h3.59v1.79h-3.59zM1798.21 568.72h1.79v1.79h-1.79zM1748 570.52h1.79v1.79h-1.79zM1755.17 570.52h1.79v1.79h-1.79zM1758.76 570.52h1.79v1.79h-1.79zM1762.34 570.52h3.59v1.79h-3.59zM1769.52 570.52h3.59v1.79h-3.59zM1774.9 570.52h12.55v1.79h-12.55zM1789.24 570.52h1.79v1.79h-1.79zM1792.83 570.52h7.17v1.79h-7.17zM1748 572.31h1.79v1.79h-1.79zM1753.38 572.31h3.59v1.79h-3.59zM1758.76 572.31h1.79v1.79h-1.79zM1762.34 572.31h3.59v1.79h-3.59zM1767.72 572.31h1.79v1.79h-1.79zM1774.9 572.31h1.79v1.79h-1.79zM1782.07 572.31h8.97v1.79h-8.97zM1792.83 572.31h5.38v1.79h-5.38zM1751.59 574.1h12.55v1.79h-12.55zM1769.52 574.1h1.79v1.79h-1.79zM1773.1 574.1h8.97v1.79h-8.97zM1783.86 574.1h1.79v1.79h-1.79zM1787.45 574.1h12.55v1.79h-12.55zM1748 575.9h1.79v1.79h-1.79zM1760.55 575.9h3.59v1.79h-3.59zM1765.93 575.9h1.79v1.79h-1.79zM1771.31 575.9h1.79v1.79h-1.79zM1782.07 575.9h1.79v1.79h-1.79zM1748 577.69h8.97v1.79h-8.97zM1765.93 577.69h3.59v1.79h-3.59zM1778.48 577.69h1.79v1.79h-1.79zM1782.07 577.69h5.38v1.79h-5.38zM1789.24 577.69h1.79v1.79h-1.79zM1794.62 577.69h5.38v1.79h-5.38zM1755.17 579.48h5.38v1.79h-5.38zM1762.34 579.48h1.79v1.79h-1.79zM1765.93 579.48h5.38v1.79h-5.38zM1776.69 579.48h1.79v1.79h-1.79zM1780.28 579.48h5.38v1.79h-5.38zM1787.45 579.48h1.79v1.79h-1.79zM1792.83 579.48h3.59v1.79h-3.59zM1748 581.28h5.38v1.79h-5.38zM1755.17 581.28h1.79v1.79h-1.79zM1758.76 581.28h1.79v1.79h-1.79zM1764.14 581.28h1.79v1.79h-1.79zM1773.1 581.28h1.79v1.79h-1.79zM1776.69 581.28h16.14v1.79h-16.14zM1794.62 581.28h1.79v1.79h-1.79zM1748 583.07h1.79v1.79h-1.79zM1755.17 583.07h5.38v1.79h-5.38zM1764.14 583.07h8.97v1.79h-8.97zM1774.9 583.07h1.79v1.79h-1.79zM1778.48 583.07h3.59v1.79h-3.59zM1783.86 583.07h3.59v1.79h-3.59zM1749.79 584.86h1.79v1.79h-1.79zM1753.38 584.86h1.79v1.79h-1.79zM1758.76 584.86h3.59v1.79h-3.59zM1764.14 584.86h7.17v1.79h-7.17zM1774.9 584.86h1.79v1.79h-1.79zM1778.48 584.86h1.79v1.79h-1.79zM1782.07 584.86h7.17v1.79h-7.17zM1791.03 584.86h3.59v1.79h-3.59zM1798.21 584.86h1.79v1.79h-1.79zM1765.93 586.66h3.59v1.79h-3.59zM1771.31 586.66h7.17v1.79h-7.17zM1780.28 586.66h1.79v1.79h-1.79zM1787.45 586.66h8.97v1.79h-8.97zM1748 588.45h12.55v1.79h-12.55zM1762.34 588.45h1.79v1.79h-1.79zM1771.31 588.45h5.38v1.79h-5.38zM1787.45 588.45h1.79v1.79h-1.79zM1791.03 588.45h1.79v1.79h-1.79zM1794.62 588.45h1.79v1.79h-1.79zM1748 590.24h1.79v1.79h-1.79zM1758.76 590.24h1.79v1.79h-1.79zM1764.14 590.24h3.59v1.79h-3.59zM1769.52 590.24h5.38v1.79h-5.38zM1780.28 590.24h5.38v1.79h-5.38zM1789.24 590.24h5.38v1.79h-5.38zM1796.41 590.24h3.59v1.79h-3.59zM1748 592.03h1.79v1.79h-1.79zM1751.59 592.03h5.38v1.79h-5.38zM1758.76 592.03h1.79v1.79h-1.79zM1767.72 592.03h1.79v1.79h-1.79zM1771.31 592.03h1.79v1.79h-1.79zM1774.9 592.03h3.59v1.79h-3.59zM1780.28 592.03h1.79v1.79h-1.79zM1783.86 592.03h7.17v1.79h-7.17zM1794.62 592.03h5.38v1.79h-5.38zM1748 593.83h1.79v1.79h-1.79zM1751.59 593.83h5.38v1.79h-5.38zM1758.76 593.83h1.79v1.79h-1.79zM1765.93 593.83h3.59v1.79h-3.59zM1773.1 593.83h1.79v1.79h-1.79zM1776.69 593.83h12.55v1.79h-12.55zM1791.03 593.83h1.79v1.79h-1.79zM1794.62 593.83h3.59v1.79h-3.59zM1748 595.62h1.79v1.79h-1.79zM1751.59 595.62h5.38v1.79h-5.38zM1758.76 595.62h1.79v1.79h-1.79zM1764.14 595.62h3.59v1.79h-3.59zM1771.31 595.62h5.38v1.79h-5.38zM1778.48 595.62h1.79v1.79h-1.79zM1783.86 595.62h3.59v1.79h-3.59zM1791.03 595.62h1.79v1.79h-1.79zM1794.62 595.62h5.38v1.79h-5.38zM1748 597.41h1.79v1.79h-1.79zM1758.76 597.41h1.79v1.79h-1.79zM1764.14 597.41h7.17v1.79h-7.17zM1773.1 597.41h1.79v1.79h-1.79zM1783.86 597.41h5.38v1.79h-5.38zM1791.03 597.41h3.59v1.79h-3.59zM1796.41 597.41h3.59v1.79h-3.59zM1748 599.21h12.55v1.79h-12.55zM1762.34 599.21h3.59v1.79h-3.59zM1767.72 599.21h5.38v1.79h-5.38zM1782.07 599.21h1.79v1.79h-1.79zM1785.66 599.21h1.79v1.79h-1.79zM1789.24 599.21h1.79v1.79h-1.79zM1792.83 599.21h7.17v1.79h-7.17z" fill="#2a2a2a"/><path d="M1659.16 540L1658.83 690" stroke="#2e2e2e" stroke-width="2.6"/><path d="M1658.84 681.8L1804.39 681.8" stroke="#3a3a3a" stroke-width="1.6"/><path d="M1658.81 698.6L1804.35 698.6" stroke="#3a3a3a" stroke-width="1.6"/><rect x="1663.4" y="686.9" width="6.6" height="6.6" fill="#2b2b2b"/><text class="fr" transform="translate(1675.8 693) scale(0.84 1)" font-size="7.2" font-weight="bold" fill="#333">注册师执业章</text><path d="M1658.37 891.7L1803.83 891.7" stroke="#3a3a3a" stroke-width="1.5"/><path d="M1658.33 908.1L1803.79 908.1" stroke="#3a3a3a" stroke-width="1.5"/><path d="M1658.29 925.1L1803.74 925.1" stroke="#3a3a3a" stroke-width="1.5"/><path d="M1658.26 941.3L1803.7 941.3" stroke="#3a3a3a" stroke-width="1.5"/><path d="M1658.22 958.3L1803.65 958.3" stroke="#3a3a3a" stroke-width="1.5"/><path d="M1658.18 974.9L1803.61 974.9" stroke="#3a3a3a" stroke-width="1.5"/><path d="M1658.14 991.5L1803.56 991.5" stroke="#3a3a3a" stroke-width="1.5"/><path d="M1694.2 891.7L1694 991.5" stroke="#3a3a3a" stroke-width="1.5"/><path d="M1749.1 891.7L1748.9 991.5" stroke="#3a3a3a" stroke-width="1.5"/><text class="fr" transform="translate(1676.3 898.9) scale(0.93 1)" font-size="5.6" font-weight="bold" fill="#383838" text-anchor="middle">项目负责人</text><text transform="translate(1676.3 906.3) scale(0.8 1)" font-size="6.2" fill="#333" font-family="Liberation Serif" text-anchor="middle" font-weight="bold">Item.Prin</text><text class="fr" transform="translate(1721.5 904) scale(0.93 1)" font-size="8.6" fill="#333" stroke="#333" stroke-width="0.3" text-anchor="middle">位俊理</text><text class="fr" transform="translate(1676.3 915.3) scale(0.93 1)" font-size="5.6" font-weight="bold" fill="#383838" text-anchor="middle">专业负责人</text><text transform="translate(1676.3 922.7) scale(0.8 1)" font-size="6.2" fill="#333" font-family="Liberation Serif" text-anchor="middle" font-weight="bold">Chief</text><text class="fr" transform="translate(1721.5 920.4) scale(0.93 1)" font-size="8.6" fill="#333" stroke="#333" stroke-width="0.3" text-anchor="middle">位俊理</text><text class="fr" x="1676.3" y="932.3" font-size="5.6" font-weight="bold" fill="#383838" text-anchor="middle">审<tspan dx="5.6">定</tspan></text><text transform="translate(1676.3 939.7) scale(0.8 1)" font-size="6.2" fill="#333" font-family="Liberation Serif" text-anchor="middle" font-weight="bold">Approved</text><text class="fr" transform="translate(1721.5 937.4) scale(0.93 1)" font-size="8.6" fill="#333" stroke="#333" stroke-width="0.3" text-anchor="middle">位俊理</text><text class="fr" x="1676.3" y="948.5" font-size="5.6" font-weight="bold" fill="#383838" text-anchor="middle">审<tspan dx="5.6">核</tspan></text><text transform="translate(1676.3 955.9) scale(0.8 1)" font-size="6.2" fill="#333" font-family="Liberation Serif" text-anchor="middle" font-weight="bold">Examined</text><text class="fr" transform="translate(1721.5 953.6) scale(0.93 1)" font-size="8.6" fill="#333" stroke="#333" stroke-width="0.3" text-anchor="middle">吴刚</text><text class="fr" x="1676.3" y="965.5" font-size="5.6" font-weight="bold" fill="#383838" text-anchor="middle">校<tspan dx="5.6">对</tspan></text><text transform="translate(1676.3 972.9) scale(0.8 1)" font-size="6.2" fill="#333" font-family="Liberation Serif" text-anchor="middle" font-weight="bold">Checked</text><text class="fr" transform="translate(1721.5 970.6) scale(0.93 1)" font-size="8.6" fill="#333" stroke="#333" stroke-width="0.3" text-anchor="middle">张学祥</text><text class="fr" x="1676.3" y="982.1" font-size="5.6" font-weight="bold" fill="#383838" text-anchor="middle">设<tspan dx="5.6">计</tspan></text><text transform="translate(1676.3 989.5) scale(0.8 1)" font-size="6.2" fill="#333" font-family="Liberation Serif" text-anchor="middle" font-weight="bold">Designed</text><text class="fr" transform="translate(1721.5 987.2) scale(0.93 1)" font-size="8.6" fill="#333" stroke="#333" stroke-width="0.3" text-anchor="middle">乔　新</text><text class="fs" transform="translate(1764.5 904.3) rotate(-6) skewX(-14) scale(0.52 1)" font-size="13" font-weight="bold" fill="#2c2c2c">位俊理</text><path d="M1766.2 895.7L1765.4 907.2" stroke="#2c2c2c" stroke-width="1.3"/><text class="fs" transform="translate(1764.5 920.7) rotate(-6) skewX(-14) scale(0.52 1)" font-size="13" font-weight="bold" fill="#2c2c2c">位俊理</text><path d="M1766.2 912.1L1765.4 923.6" stroke="#2c2c2c" stroke-width="1.3"/><text class="fs" transform="translate(1764.5 937.7) rotate(-6) skewX(-14) scale(0.52 1)" font-size="13" font-weight="bold" fill="#2c2c2c">位俊理</text><path d="M1766.2 929.1L1765.4 940.6" stroke="#2c2c2c" stroke-width="1.3"/><text class="fs" transform="translate(1762.5 955.3) rotate(-4) skewX(-8) scale(0.72 1)" font-size="17" font-weight="bold" fill="#2c2c2c">吴</text><text class="fs" transform="translate(1776 954.3) rotate(-3) skewX(-6) scale(0.8 1)" font-size="15" font-weight="bold" fill="#2c2c2c">刚</text><path d="M1788 942L1789.2 965L1788.6 990.5" stroke="#3a3a3a" stroke-width="1.3" fill="none"/><text class="fs" transform="translate(1761.5 971.1) rotate(-5) skewX(-12) scale(0.74 1)" font-size="13.5" font-weight="bold" fill="#2c2c2c">张学祥</text><text class="fs" transform="translate(1763 989.4) rotate(-6) skewX(-14) scale(0.84 1)" font-size="15.5" font-weight="bold" fill="#2c2c2c">乔新</text><path d="M1771 983.9L1771.5 991.4" stroke="#2c2c2c" stroke-width="1.3"/><path d="M1785.5 982.9L1784.5 991.4" stroke="#2c2c2c" stroke-width="1.3"/><rect x="1663.2" y="998.1" width="6.6" height="6.6" fill="#2b2b2b"/><text class="fr" transform="translate(1671.9 1004.2) scale(0.88 1)" font-size="6.6" font-weight="bold" fill="#333">建设单位</text><text transform="translate(1705.7 1003) scale(0.85 1)" font-size="4.2" fill="#444" font-weight="bold">CLIENT</text><text class="fr" transform="translate(1729.2 1026.2) scale(0.93 1)" font-size="9.2" fill="#333" stroke="#333" stroke-width="0.32" text-anchor="middle">郗敏<tspan dx="4.6">梁赢芬</tspan></text><path d="M1658.02 1047.3L1803.41 1047.3" stroke="#3a3a3a" stroke-width="1.6"/><rect x="1662.6" y="1052.4" width="6.6" height="6.6" fill="#2b2b2b"/><text class="fr" transform="translate(1671.5 1058.6) scale(0.88 1)" font-size="6.6" font-weight="bold" fill="#333">工程名称</text><text transform="translate(1705.7 1058)" font-size="4.6" fill="#555" font-family="Liberation Serif">Project</text><text class="fr" transform="translate(1728.8 1088.6) scale(0.93 1)" font-size="9.2" fill="#333" stroke="#333" stroke-width="0.32" text-anchor="middle">郗敏<tspan dx="4.6">梁赢芬住宅楼</tspan></text><path d="M1657.9 1099.5L1803.27 1099.5" stroke="#3a3a3a" stroke-width="1.6"/><rect x="1662.3" y="1104.6" width="6.6" height="6.6" fill="#2b2b2b"/><text class="fr" transform="translate(1671 1110.8) scale(0.88 1)" font-size="6.6" font-weight="bold" fill="#333">图纸名称</text><text transform="translate(1703 1110)" font-size="4.6" fill="#555" font-family="Liberation Serif">Title</text><text class="fr" transform="translate(1728.8 1141) scale(0.9 1)" font-size="9.2" fill="#333" stroke="#333" stroke-width="0.32" text-anchor="middle">总平面规划图</text><path d="M1657.78 1151.5L1803.14 1151.5" stroke="#2e2e2e" stroke-width="2.2"/><path d="M1657.74 1172.5L1803.08 1172.5" stroke="#3a3a3a" stroke-width="1.6"/><path d="M1657.69 1193.75L1803.02 1193.75" stroke="#3a3a3a" stroke-width="1.6"/><path d="M1657.64 1215L1802.96 1215" stroke="#3a3a3a" stroke-width="1.6"/><path d="M1657.59 1235.75L1802.91 1235.75" stroke="#3a3a3a" stroke-width="1.6"/><path d="M1657.54 1257L1802.85 1257" stroke="#3a3a3a" stroke-width="1.6"/><path d="M1701.8 1151.5L1701.5 1277" stroke="#3a3a3a" stroke-width="1.6"/><text class="fr" transform="translate(1678.5 1160.5) scale(0.9 1)" font-size="6.4" font-weight="bold" fill="#3a3a3a" text-anchor="middle">工<tspan dx="3.2">程</tspan><tspan dx="3.2">号</tspan></text><text transform="translate(1678.8 1169.8) scale(0.74 1)" font-size="6.3" fill="#333" font-family="Liberation Serif" text-anchor="middle" font-weight="bold">PRO NO.</text><text class="fr" transform="translate(1678.5 1181.5) scale(0.9 1)" font-size="6.4" font-weight="bold" fill="#3a3a3a" text-anchor="middle">日<tspan dx="9.6">期</tspan></text><text transform="translate(1678.8 1190.8) scale(0.74 1)" font-size="6.3" fill="#333" font-family="Liberation Serif" text-anchor="middle" font-weight="bold">DATE</text><text transform="translate(1751.5 1186.7) scale(0.9 1)" font-size="8" fill="#333" font-family="Liberation Serif" text-anchor="middle">2025.08</text><text class="fr" transform="translate(1678.5 1202.75) scale(0.9 1)" font-size="6.4" font-weight="bold" fill="#3a3a3a" text-anchor="middle">图<tspan dx="9.6">别</tspan></text><text transform="translate(1678.8 1212.05) scale(0.74 1)" font-size="6.3" fill="#333" font-family="Liberation Serif" text-anchor="middle" font-weight="bold">DRAWING TYPE</text><text class="fr" transform="translate(1751.5 1207.95) scale(0.84 1)" font-size="8.2" fill="#333" stroke="#333" stroke-width="0.29" text-anchor="middle">建筑-02页/共06页</text><text class="fr" transform="translate(1678.5 1224) scale(0.9 1)" font-size="6.4" font-weight="bold" fill="#3a3a3a" text-anchor="middle">图纸比例</text><text transform="translate(1678.8 1233.3) scale(0.74 1)" font-size="6.3" fill="#333" font-family="Liberation Serif" text-anchor="middle" font-weight="bold">POST  CODE</text><text class="fr" transform="translate(1751.5 1229.2) scale(0.84 1)" font-size="8.2" fill="#333" stroke="#333" stroke-width="0.29" text-anchor="middle">详<tspan dx="4.1">图</tspan></text><text class="fr" transform="translate(1678.5 1244.75) scale(0.9 1)" font-size="6.4" font-weight="bold" fill="#3a3a3a" text-anchor="middle">版<tspan dx="9.6">次</tspan></text><text transform="translate(1678.8 1254.05) scale(0.74 1)" font-size="6.3" fill="#333" font-family="Liberation Serif" text-anchor="middle" font-weight="bold">POST  CODE</text><text class="fr" transform="translate(1751.5 1249.95) scale(0.84 1)" font-size="8.2" fill="#333" stroke="#333" stroke-width="0.29" text-anchor="middle">第一版</text><text class="fr" transform="translate(1678.5 1266) scale(0.9 1)" font-size="6.4" font-weight="bold" fill="#3a3a3a" text-anchor="middle">图<tspan dx="9.6">号</tspan></text><text transform="translate(1678.8 1275.3) scale(0.74 1)" font-size="6.3" fill="#333" font-family="Liberation Serif" text-anchor="middle" font-weight="bold">POST  CODE</text><text transform="translate(1751.5 1271.2) scale(0.9 1)" font-size="8" fill="#333" font-family="Liberation Serif" text-anchor="middle">A2</text><text class="fr" transform="translate(1803.5 1291.3) scale(0.93 1)" font-size="6.6" font-weight="bold" fill="#2b2b2b" text-anchor="end">本图纸的版权，属中铭工程设计咨询有限公司所有，不得用于本工程以外范围。</text><path d="M68 52L1836 52.5L1832.5 1307.5L56.5 1307Z" stroke="#444" stroke-width="1.3" fill="none"/><path d="M133.5 1277L142 82.5L1806 82.5L1802.8 1277.5" stroke="#2e2e2e" stroke-width="3" fill="none"/><path d="M132 1277.3L1804.3 1277.3" stroke="#303030" stroke-width="2.4"/></svg></body></html>
